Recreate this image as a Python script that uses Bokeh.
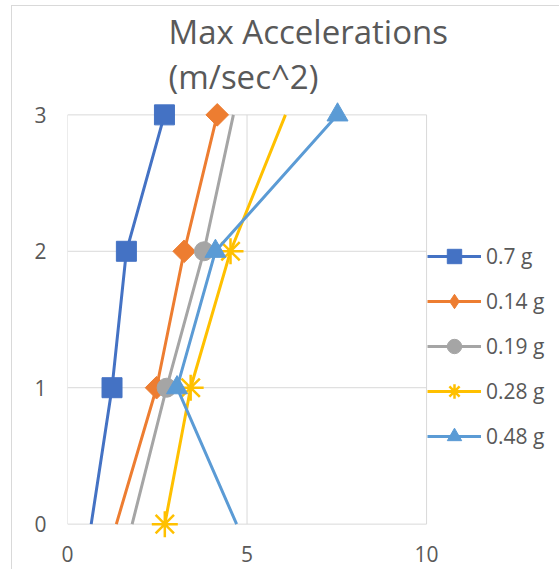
import math
from bokeh.plotting import figure
from bokeh.models import Range1d, FixedTicker, Legend, LegendItem
from bokeh.embed import file_html
from bokeh.resources import INLINE

# ---------------- data ----------------
levels = [0, 1, 2, 3]
series_names = ["0.7 g", "0.14 g", "0.19 g", "0.28 g", "0.48 g"]
acc_07 = [0.66, 1.24, 1.64, 2.70]
acc_014 = [1.36, 2.48, 3.25, 4.17]
acc_019 = [1.80, 2.76, 3.80, 4.62]
acc_028 = [2.71, 3.43, 4.54, 6.07]
acc_048 = [4.71, 3.05, 4.12, 7.52]
# levels at which a marker is shown
marked_07 = [1, 2, 3]
marked_014 = [1, 2, 3]
marked_019 = [1, 2]
marked_028 = [0, 1, 2]
marked_048 = [1, 2, 3]
x_ticks = [0, 5, 10]
y_ticks = [0, 1, 2, 3]
title_text = "Max Accelerations\n(m/sec^2)"

colors = ["#4472C4", "#ED7D31", "#A5A5A5", "#FFC000", "#5B9BD5"]
markers = ["square", "square", "circle", "asterisk", "triangle"]
legend_markers = ["square", "diamond", "circle", "asterisk", "triangle"]
angles = [0, math.pi / 4, 0, 0, 0]
sizes = [20, 16, 19, 26, 21]

all_x = [acc_07, acc_014, acc_019, acc_028, acc_048]
all_marked = [marked_07, marked_014, marked_019, marked_028, marked_048]

FONT = "Open Sans"
TXT = "#595959"
GRID = "#D9D9D9"

# the frame extends right of x=10 to hold the legend (gridlines stop at 10)
p = figure(width=548, height=564, output_backend="svg", toolbar_location=None,
           x_range=Range1d(0, 13.73), y_range=Range1d(-0.12, 3.12),
           min_border_left=55, min_border_right=0,
           min_border_top=91, min_border_bottom=30)
p.styles = {"margin-left": "11px", "margin-top": "5px",
            "border-left": "1px solid #D9D9D9", "border-top": "1px solid #D9D9D9"}
p.outline_line_color = None
p.grid.visible = False

for ax, tks in ((p.xaxis[0], x_ticks), (p.yaxis[0], y_ticks)):
    ax.ticker = FixedTicker(ticks=tks)
    ax.axis_line_color = None
    ax.major_tick_line_color = None
    ax.minor_tick_line_color = None
    ax.major_tick_out = 0
    ax.major_tick_in = 0
    ax.major_label_text_font = FONT
    ax.major_label_text_font_size = "21px"
    ax.major_label_text_color = TXT
p.xaxis[0].major_label_standoff = 5
p.yaxis[0].major_label_standoff = 21

# gridlines bounded to the tick extent
p.segment(x0=x_ticks, x1=x_ticks, y0=[y_ticks[0]] * len(x_ticks),
          y1=[y_ticks[-1]] * len(x_ticks), line_color=GRID, line_width=1)
p.segment(x0=[x_ticks[0]] * len(y_ticks), x1=[x_ticks[-1]] * len(y_ticks),
          y0=y_ticks, y1=y_ticks, line_color=GRID, line_width=1)

items = []
for name, xs, marked, col, mk, lmk, ang, sz in zip(series_names, all_x, all_marked,
                                                   colors, markers, legend_markers,
                                                   angles, sizes):
    lw = 2.5 if mk == "asterisk" else 1
    lr = p.line(xs, levels, line_color=col, line_width=3)
    mx = [xs[levels.index(l)] for l in marked]
    mr = p.scatter(mx, marked, marker=mk, size=sz, angle=ang,
                   fill_color=col, line_color=col, line_width=lw)
    if lmk != mk:
        # zero-size twin used only for the legend swatch (upright diamond)
        mr = p.scatter(mx, marked, marker=lmk, size=0, fill_color=col,
                       line_color=col, line_width=lw)
    items.append(LegendItem(label=name, renderers=[lr, mr]))

legend = Legend(items=items, location=(360, 86), orientation="vertical",
                glyph_width=54, glyph_height=36, label_height=36, spacing=9,
                label_standoff=5, padding=0, margin=0,
                border_line_color=None, background_fill_alpha=0,
                label_text_font=FONT, label_text_font_size="21px",
                label_text_color=TXT)
p.add_layout(legend, "center")

p.title.text = title_text
p.title.align = "left"
p.title.offset = 101
p.title.standoff = 0
p.title.text_font = FONT
p.title.text_font_size = "33px"
p.title.text_font_style = "normal"
p.title.text_color = TXT

open("out.html", "w").write(file_html(p, INLINE))
